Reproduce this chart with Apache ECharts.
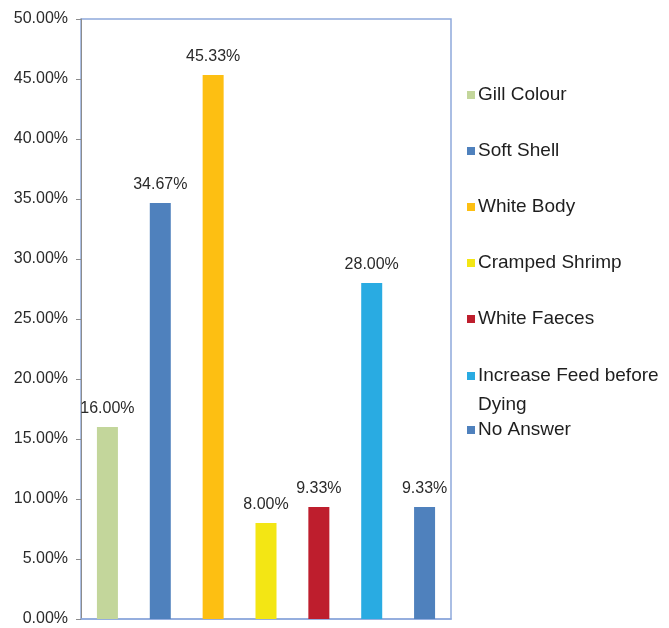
<!DOCTYPE html>
<html>
<head>
<meta charset="utf-8">
<script src="https://cdn.jsdelivr.net/npm/echarts@6/dist/echarts.min.js"></script>
<style>
html,body{margin:0;padding:0;background:#fff;}
#main{width:669px;height:628px;}
</style>
</head>
<body>
<div id="main"></div>
<script>
var categories = ['Gill Colour','Soft Shell','White Body','Cramped Shrimp','White Faeces','Increase Feed before Dying','No Answer'];
var values = [16.00, 34.67, 45.33, 8.00, 9.33, 28.00, 9.33];
var colors = ['#C3D69B','#4F81BD','#FDBF12','#F3E614','#BE1E2D','#29ABE2','#4F81BD'];
var yTicks = [0,5,10,15,20,25,30,35,40,45,50];

var FONT = '"Liberation Sans", Arial, sans-serif';
var chart = echarts.init(document.getElementById('main'));

var series = categories.map(function(name, i){
  var d = categories.map(function(c, j){ return j === i ? values[i] : null; });
  return {
    name: name,
    type: 'bar',
    stack: 'all',
    barWidth: 21,
    itemStyle: {color: colors[i]},
    data: d,
    label: {
      show: true,
      position: 'top',
      distance: 10,
      color: '#2a2a2a',
      fontFamily: FONT,
      fontSize: 16,
      formatter: function(p){ return p.value == null ? '' : p.value.toFixed(2) + '%'; }
    }
  };
});

var legendCenters = [95, 151, 207, 263, 319, 376, 430];
var LH = 21, MLH = 29;
var legends = categories.map(function(name, i){
  var multi = name === 'Increase Feed before Dying';
  return {
    data: [name],
    orient: 'vertical',
    left: 467,
    top: multi ? legendCenters[i] - 1.5 * MLH : legendCenters[i] - LH / 2,
    padding: 0,
    itemWidth: 8,
    itemHeight: 8,
    itemGap: 0,
    icon: 'rect',
    selectedMode: false,
    formatter: multi ? function(){ return '\nIncrease Feed before\nDying'; } : undefined,
    textStyle: {
      fontFamily: FONT,
      fontSize: 19,
      lineHeight: multi ? MLH : LH,
      color: '#1e1e1e',
      padding: [0, 0, 0, -2]
    }
  };
});

chart.setOption({
  animation: false,
  backgroundColor: '#fff',
  grid: {left: 81, top: 19, right: 218, bottom: 9, show: true, borderColor: '#8EA9DB', borderWidth: 1.5, containLabel: false},
  legend: legends,
  xAxis: {
    type: 'category',
    data: categories,
    axisLine: {show: true, lineStyle: {color: '#8EA9DB', width: 1.5}},
    axisTick: {show: false},
    axisLabel: {show: false}
  },
  yAxis: {
    type: 'value',
    min: 0,
    max: 50,
    interval: 5,
    splitLine: {show: false},
    axisLine: {show: true, lineStyle: {color: '#8c8c8c', width: 1}},
    axisTick: {show: true, length: 5, lineStyle: {color: '#8c8c8c'}},
    axisLabel: {
      margin: 13,
      color: '#2a2a2a',
      fontFamily: FONT,
      fontSize: 16,
      formatter: function(v){ return v.toFixed(2) + '%'; }
    }
  },
  series: series
});
</script>
</body>
</html>
